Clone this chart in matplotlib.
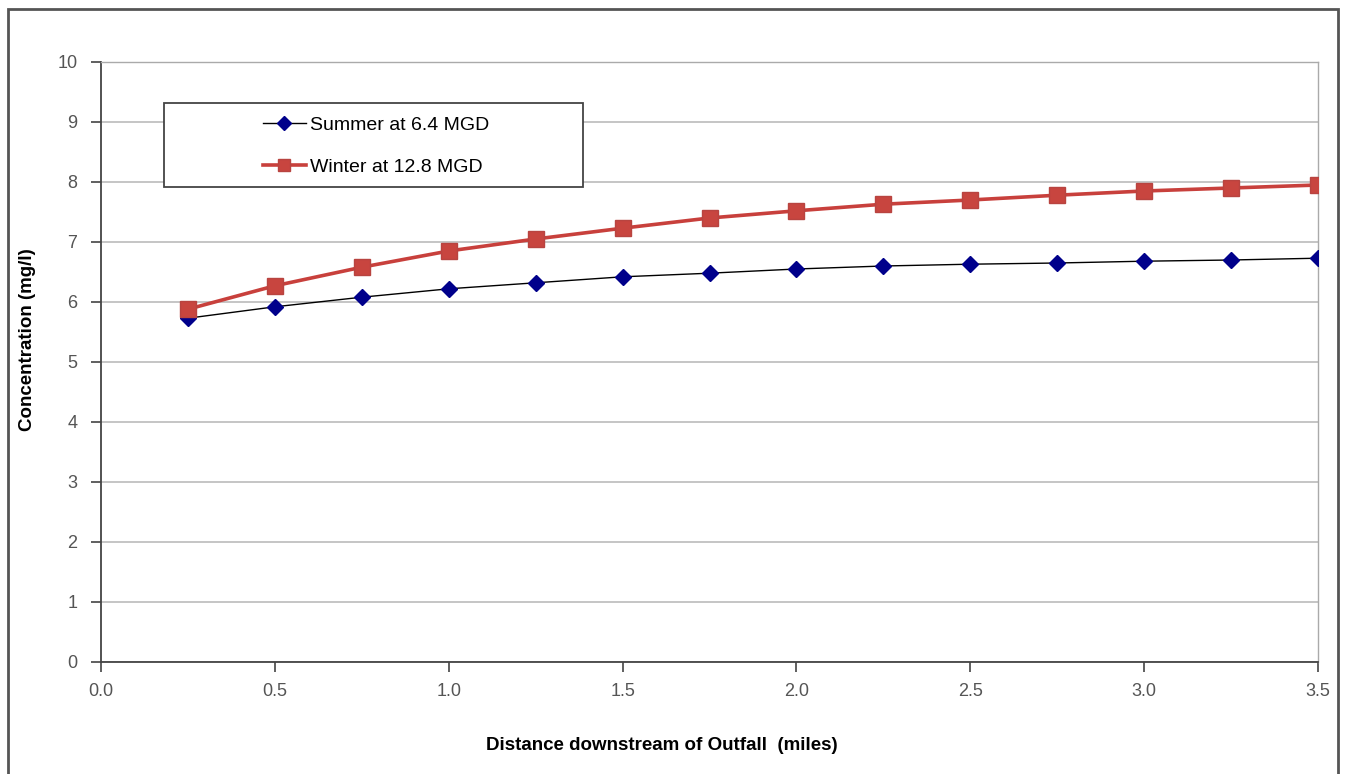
import numpy as np
import matplotlib
matplotlib.use("Agg")
import matplotlib.pyplot as plt
from matplotlib.patches import Rectangle

plt.rcParams['font.family'] = ['Liberation Sans', 'DejaVu Sans']

# ------------------------------------------------------------------
#                              data
# ------------------------------------------------------------------
distance = [0.25, 0.5, 0.75, 1.0, 1.25, 1.5, 1.75, 2.0, 2.25, 2.5, 2.75, 3.0, 3.25, 3.5]
summer = [5.73, 5.92, 6.08, 6.22, 6.32, 6.42, 6.48, 6.55, 6.60, 6.63, 6.65, 6.68, 6.70, 6.73]
winter = [5.88, 6.27, 6.58, 6.85, 7.05, 7.23, 7.40, 7.52, 7.63, 7.70, 7.78, 7.85, 7.90, 7.95]
summer_label = "Summer at 6.4 MGD"
winter_label = "Winter at 12.8 MGD"
x_ticks = [0.0, 0.5, 1.0, 1.5, 2.0, 2.5, 3.0, 3.5]
y_ticks = list(range(0, 11))

# ------------------------------------------------------------------
#                              figure
# ------------------------------------------------------------------
W, H = 1348, 774
fig = plt.figure(figsize=(W / 100, H / 100), dpi=100)
fig.patch.set_facecolor('white')

# outer chart frame
fig.add_artist(Rectangle((8 / W, -0.02), (1338 - 8) / W, 1 - 9 / H + 0.02,
                         transform=fig.transFigure, fill=False,
                         edgecolor='#555555', linewidth=2))

ax = fig.add_axes([101 / W, 1 - 662 / H, (1318 - 101) / W, (662 - 62) / H])

ax.plot(distance, summer, color='black', linewidth=1.0, marker='D',
        markersize=8, markerfacecolor='#00008B', markeredgecolor='#00008B',
        label=summer_label, zorder=3)
ax.plot(distance, winter, color='#C8403C', linewidth=2.6, marker='s',
        markersize=11, markerfacecolor='#C8453F', markeredgecolor='#B84440',
        label=winter_label, zorder=4)

ax.set_xlim(0, 3.5)
ax.set_ylim(0, 10)
ax.set_xticks(x_ticks)
ax.set_xticklabels(["%.1f" % v for v in x_ticks])
ax.set_yticks(y_ticks)
ax.grid(axis='y', color='#BBBBBB', linewidth=1.2)
ax.set_axisbelow(True)

for side in ['top', 'right']:
    ax.spines[side].set_color('#AAAAAA')
    ax.spines[side].set_linewidth(1.0)
for side in ['left', 'bottom']:
    ax.spines[side].set_color('#444444')
    ax.spines[side].set_linewidth(1.3)

ax.tick_params(axis='both', direction='out', length=7, width=1.2,
               color='#444444', labelsize=13, labelcolor='#555555')
ax.tick_params(axis='x', pad=8)
ax.tick_params(axis='y', pad=10)

ax.set_xlabel("Distance downstream of Outfall  (miles)", fontsize=13.5,
              fontweight='bold')
ax.set_ylabel("Concentration (mg/l)", fontsize=13.5, fontweight='bold')
ax.xaxis.set_label_coords((662 - 101) / 1217, (662 - 745) / 600)
ax.yaxis.set_label_coords((27 - 101) / 1217, (662 - 340) / 600)
ax.xaxis.label.set_va('center')
ax.yaxis.label.set_va('center')

# legend box
box = Rectangle(((164 - 101) / (1318 - 101), (662 - 187) / 600),
                (583 - 164) / (1318 - 101), (187 - 103) / 600,
                transform=ax.transAxes, facecolor='white',
                edgecolor='#444444', linewidth=1.3, zorder=5)
ax.add_patch(box)
leg = ax.legend(loc='center', bbox_to_anchor=((376 - 101) / (1318 - 101),
                (662 - 146) / 600), frameon=False, fontsize=14,
                handlelength=2.2, handletextpad=0.2, labelspacing=1.25,
                markerscale=0.85)
leg.set_zorder(6)

fig.savefig("out.png", dpi=100)
